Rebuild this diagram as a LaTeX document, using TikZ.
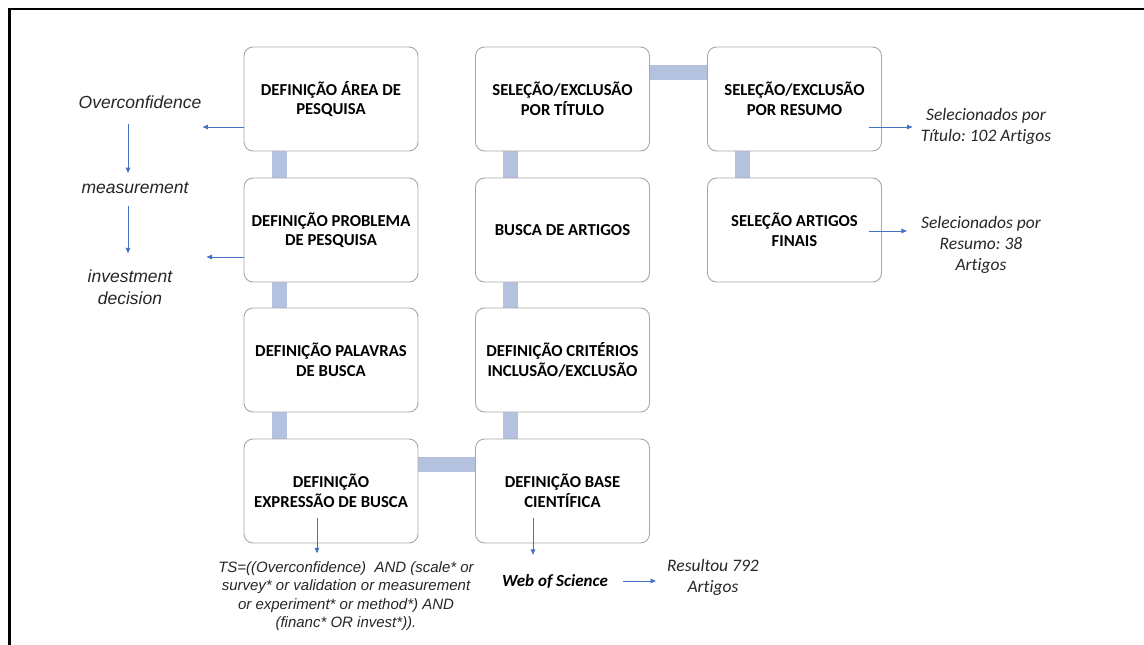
\documentclass[tikz,border=0pt]{standalone}
\usepackage{fontspec}
\setmainfont{Carlito}[Ligatures=NoCommon]
\newfontfamily\arialf{Liberation Sans}
\usetikzlibrary{calc,arrows.meta,backgrounds}
\definecolor{boxgray}{RGB}{168,168,168}
\definecolor{barblue}{RGB}{180,194,224}
\definecolor{arrblue}{RGB}{68,114,196}
\definecolor{txtgray}{RGB}{38,38,38}
\frenchspacing
\begin{document}
\begin{tikzpicture}[x=1pt,y=-1pt,
  stepbox/.style={draw=boxgray, line width=0.9pt, rounded corners=9pt, fill=white,
    minimum width=174pt, minimum height=104pt, align=center, inner sep=0pt,
    font=\fontsize{16.7}{19.5}\selectfont\bfseries, text=black},
  bar/.style={draw=barblue, line width=15pt},
  arr/.style={draw=arrblue, line width=0.9pt, -{Triangle[length=5.5pt,width=4.5pt]}},
  lefttxt/.style={font=\arialf\itshape\fontsize{17.5}{22}\selectfont, align=center, inner sep=0pt, text=txtgray},
  tstxt/.style={font=\arialf\itshape\fontsize{15}{18.3}\selectfont, align=center, inner sep=0pt, text=txtgray},
  caltxt/.style={font=\itshape\fontsize{17.5}{21}\selectfont, align=center, inner sep=0pt, text=txtgray},
  wostxt/.style={font=\bfseries\itshape\fontsize{17}{21}\selectfont, align=center, inner sep=0pt, text=black}
]
\useasboundingbox (0,0) rectangle (1144,645);

% boxes
\node[stepbox] (b11) at (331,99)  {DEFINIÇÃO ÁREA DE\\PESQUISA};
\node[stepbox] (b12) at (331,230) {DEFINIÇÃO PROBLEMA\\DE PESQUISA};
\node[stepbox] (b13) at (331,360) {DEFINIÇÃO PALAVRAS\\DE BUSCA};
\node[stepbox] (b14) at (331,491) {DEFINIÇÃO\\EXPRESSÃO DE BUSCA};
\node[stepbox] (b21) at (562.5,99)  {SELEÇÃO/EXCLUSÃO\\POR TÍTULO};
\node[stepbox] (b22) at (562.5,230) {BUSCA DE ARTIGOS};
\node[stepbox] (b23) at (562.5,360) {DEFINIÇÃO CRITÉRIOS\\INCLUSÃO/EXCLUSÃO};
\node[stepbox] (b24) at (562.5,491) {DEFINIÇÃO BASE\\CIENTÍFICA};
\node[stepbox] (b31) at (794.5,99)  {SELEÇÃO/EXCLUSÃO\\POR RESUMO};
\node[stepbox] (b32) at (794.5,230) {SELEÇÃO ARTIGOS\\FINAIS};

% side texts
\node[lefttxt] (ov) at (140,102) {Overconfidence};
\node[lefttxt] (meas) at (135,188) {measurement};
\node[lefttxt] (inv) at (130,287) {investment\\decision};
\node[tstxt] (ts) at (346,596) {TS=((Overconfidence)\ \ AND (scale* or\\survey* or validation\ or measurement\\or experiment*\ or method*)\ AND\\(financ* OR invest*)).};
\node[wostxt] (wos) at (555,582) {Web of Science};
\node[caltxt] (res) at (713,577.5) {Resultou 792\\Artigos};
\node[caltxt] (sel1) at (986,126.5) {Selecionados por\\Título: 102 Artigos};
\node[caltxt] (sel2) at (981,245) {Selecionados por\\Resumo: 38\\Artigos};

\coordinate (lx) at (128,0);

% background: white, bars
\begin{scope}[on background layer]
  \fill[white] (0,0) rectangle (1144,645);
  \draw[bar] ($(b11.south)+(-51.5,0)$) -- ($(b12.north)+(-51.5,0)$);
  \draw[bar] ($(b12.south)+(-51.5,0)$) -- ($(b13.north)+(-51.5,0)$);
  \draw[bar] ($(b13.south)+(-51.5,0)$) -- ($(b14.north)+(-51.5,0)$);
  \draw[bar] ($(b24.north)+(-52.5,0)$) -- ($(b23.south)+(-52.5,0)$);
  \draw[bar] ($(b23.north)+(-52.5,0)$) -- ($(b22.south)+(-52.5,0)$);
  \draw[bar] ($(b22.north)+(-52.5,0)$) -- ($(b21.south)+(-52.5,0)$);
  \draw[bar] ($(b31.south)+(-52.5,0)$) -- ($(b32.north)+(-52.5,0)$);
  \draw[bar] ($(b21.east)+(0,-26.5)$) -- ($(b31.west)+(0,-26.5)$);
  \draw[bar] ($(b14.east)+(0,-27)$) -- ($(b24.west)+(0,-27)$);
\end{scope}

% frame
\draw[line width=2.6pt, black] (9.3,645) -- (9.3,8.8) -- (1144,8.8);

% arrows
\draw[arr] ($(b11.west)+(0,28)$) coordinate (s1) -- ($(s1 -| ov.east)+(1,0)$);
\draw[arr] ($(b12.west)+(0,27)$) coordinate (s2) -- ($(s2 -| inv.east)+(34,0)$);
\draw[arr] ($(ov.south -| lx)+(0,15)$) -- ($(meas.north -| lx)+(0,-9)$);
\draw[arr] ($(meas.south -| lx)+(0,12)$) -- ($(inv.north -| lx)+(0,-16)$);
\draw[arr] ($(b14.south)+(-14,-25)$) coordinate (s3) -- ($(s3 |- ts.north)+(0,-8)$);
\draw[arr] ($(b24.south)+(-29.5,-25)$) coordinate (s4) -- ($(s4 |- wos.north)+(0,-20)$);
\draw[arr] ($(wos.east)+(15,-1)$) coordinate (s5) -- ($(s5 -| res.west)+(-11,0)$);
\draw[arr] ($(b31.east)+(-13,28)$) coordinate (s6) -- ($(s6 -| sel1.west)+(-8,0)$);
\draw[arr] ($(b32.east)+(-13,1)$) coordinate (s7) -- ($(s7 -| sel2.west)+(-14,0)$);
\end{tikzpicture}
\end{document}
